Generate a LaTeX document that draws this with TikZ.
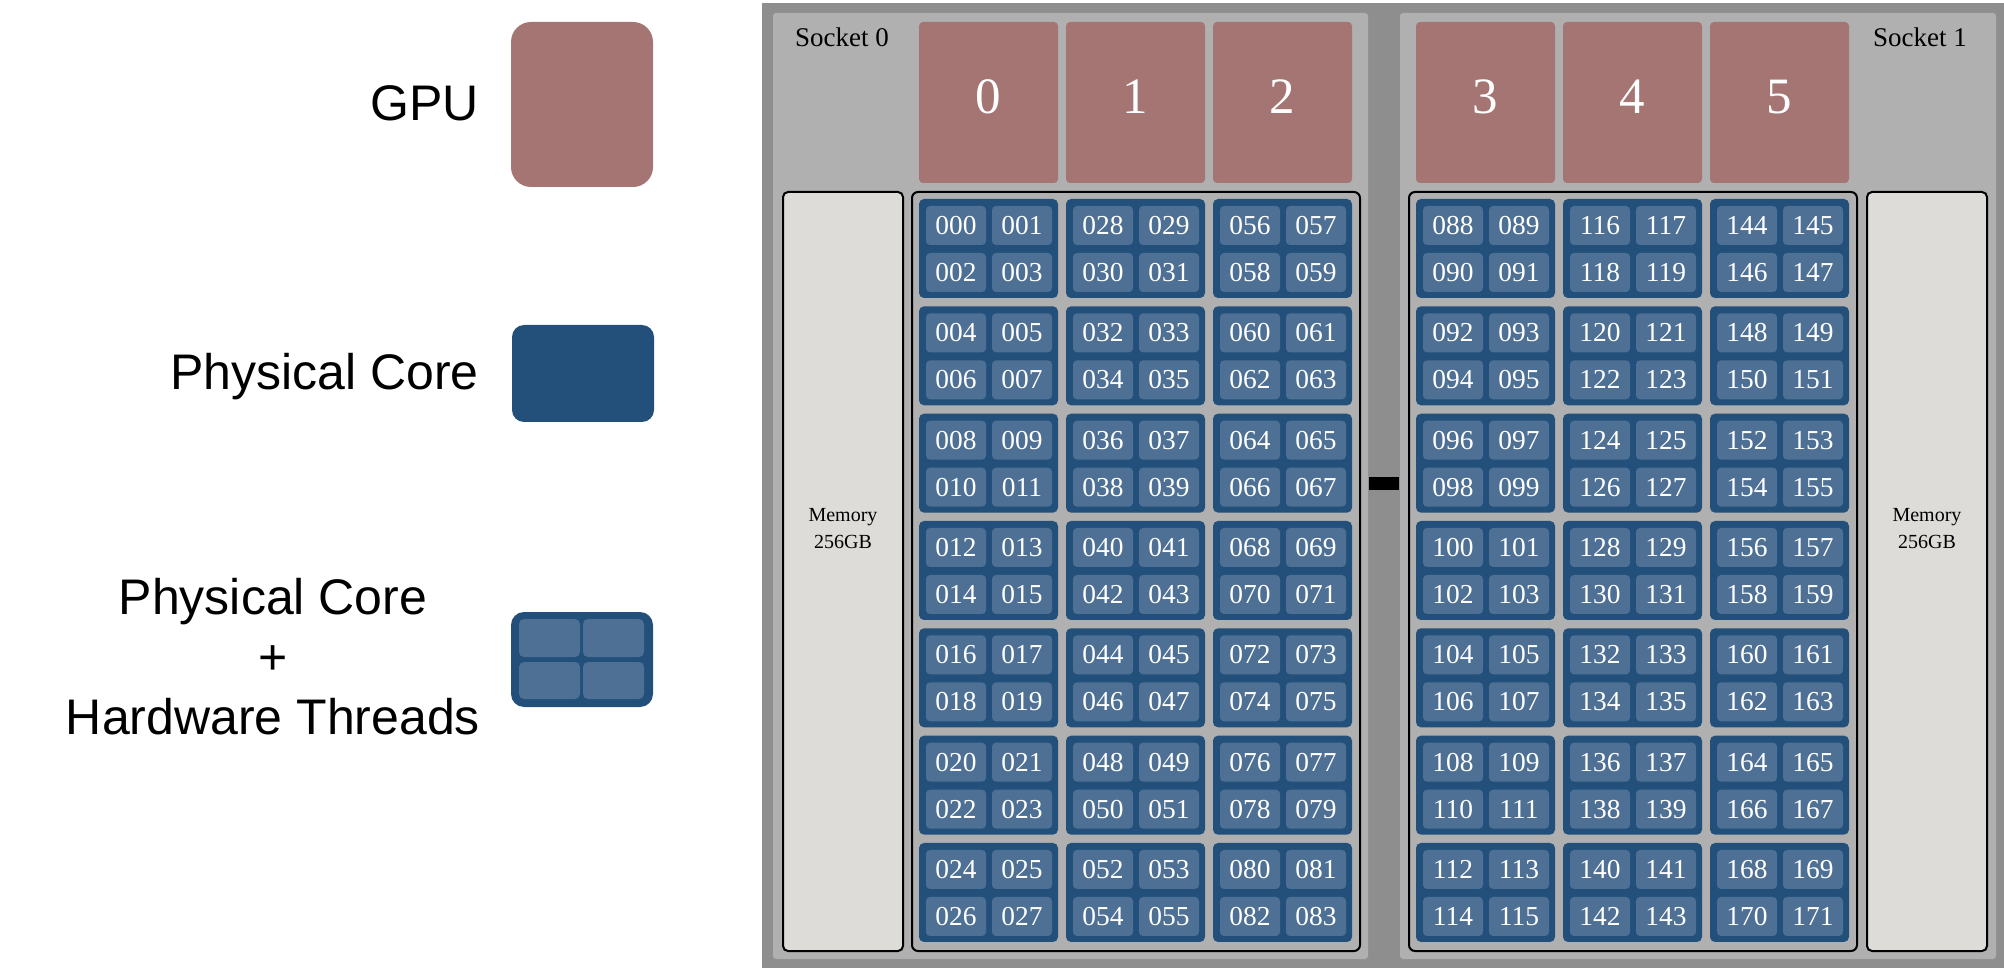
\documentclass[tikz,border=0pt]{standalone}
\usepackage{fontspec}
\setmainfont{Liberation Serif}
\newfontfamily\legendfont{Liberation Sans}
\definecolor{gpured}{HTML}{A57573}
\definecolor{coreblue}{HTML}{22507A}
\definecolor{threadblue}{HTML}{4E7094}
\definecolor{socketgray}{HTML}{B0B0B0}
\definecolor{framegray}{HTML}{8E8E8E}
\definecolor{memgray}{HTML}{DDDCD8}
\newcommand\threepad[1]{\ifnum#1<100 0\fi\ifnum#1<10 0\fi#1}
\begin{document}
\begin{tikzpicture}[x=0.5pt,y=-0.5pt,
  pxbox/.style 2 args={minimum width={#1*0.5pt}, minimum height={#2*0.5pt}, inner sep=0pt, outer sep=0pt, anchor=north west},
  framebox/.style={fill=framegray},
  socketbox/.style={fill=socketgray, rounded corners=1.5pt},
  gpubox/.style={fill=gpured, rounded corners=2pt, text=white, font=\fontsize{25.5}{30}\selectfont},
  membox/.style={fill=memgray, draw=black, line width=1pt, rounded corners=2.5pt},
  groupbox/.style={draw=black, line width=1pt, rounded corners=3pt},
  coreblock/.style={fill=coreblue, rounded corners=2.5pt},
  threadcell/.style={fill=threadblue, rounded corners=2pt, text=white, font=\fontsize{13.7}{16}\selectfont},
  sockettext/.style={font=\fontsize{13.5}{16}\selectfont, inner sep=0pt},
  memtext/.style={font=\fontsize{10}{13.5}\selectfont, align=center, inner sep=0pt},
  legendtext/.style={font=\legendfont\fontsize{25}{30}\selectfont, align=center, inner sep=0pt},
  linkbar/.style={fill=black}
]
\fill[white] (0,0) rectangle (2004,968);
\useasboundingbox (0,0) rectangle (2004,968);

% legend
\node[pxbox={142}{165}, fill=gpured, rounded corners=10pt] (lgpu) at (511,22) {};
\node[legendtext, anchor=east] (lgputext) at (479,103) {GPU};
\node[pxbox={142}{97}, fill=coreblue, rounded corners=6pt] (lcore) at (512,325) {};
\node[legendtext, anchor=east] (lcoretext) at (479,377) {Physical Core};
\node[pxbox={142}{95}, fill=coreblue, rounded corners=6.5pt] (lht) at (511,612) {};
\node[pxbox={61}{38}, fill=threadblue, rounded corners=2.5pt] (lht1) at (519,619) {};
\node[pxbox={61}{38}, fill=threadblue, rounded corners=2.5pt] (lht2) at (583,619) {};
\node[pxbox={61}{37}, fill=threadblue, rounded corners=2.5pt] (lht3) at (519,662) {};
\node[pxbox={61}{37}, fill=threadblue, rounded corners=2.5pt] (lht4) at (583,662) {};
\node[legendtext] (lhttext) at (273,657) {Physical Core\\+\\Hardware Threads};

% frame and sockets
\node[framebox, pxbox={1242}{965}] (frame) at (762,3) {};
\node[socketbox, pxbox={595}{946}] (sock0) at (773,13) {};
\node[socketbox, pxbox={596}{946}] (sock1) at (1400,13) {};
\node[sockettext] (sock0label) at (842,37) {Socket 0};
\node[sockettext] (sock1label) at (1920,37) {Socket 1};
\node[linkbar, pxbox={30}{13}] (link) at (1369,477) {};

% memory
\node[membox, pxbox={120}{759}] (mem0) at (783,192) {};
\node[membox, pxbox={120}{759}] (mem1) at (1867,192) {};
\node[memtext] (mem0text) at (843,529) {Memory\\256GB};
\node[memtext] (mem1text) at (1927,529) {Memory\\256GB};

% core group outlines
\node[groupbox, pxbox={448}{759}] (grp0) at (912,192) {};
\node[groupbox, pxbox={448}{759}] (grp1) at (1409,192) {};

% GPUs
\foreach \g in {0,1,2} {
  \pgfmathsetmacro\gx{919+\g*147}
  \node[gpubox, pxbox={139}{161}] (gpu\g) at (\gx,22) {\raisebox{6pt}{\g}};
}
\foreach \g in {3,4,5} {
  \pgfmathsetmacro\gx{1416+(\g-3)*147}
  \node[gpubox, pxbox={139}{161}] (gpu\g) at (\gx,22) {\raisebox{6pt}{\g}};
}

% cores and hardware threads
\foreach \s in {0,1} {
  \foreach \c in {0,1,2} {
    \foreach \r in {0,...,6} {
      \pgfmathsetmacro\bx{(\s==0?919:1416)+\c*147}
      \pgfmathsetmacro\by{199+\r*107.33}
      \pgfmathtruncatemacro\base{(\s==0?0:88)+\c*28+\r*4}
      \node[coreblock, pxbox={139}{99}] (core\s-\c-\r) at (\bx,\by) {};
      \foreach \k/\dx/\dy in {0/7/7,1/73/7,2/7/54,3/73/54} {
        \pgfmathtruncatemacro\num{\base+\k}
        \node[threadcell, pxbox={60}{39}] (t\num) at (\bx+\dx,\by+\dy) {\threepad{\num}};
      }
    }
  }
}
\end{tikzpicture}
\end{document}
